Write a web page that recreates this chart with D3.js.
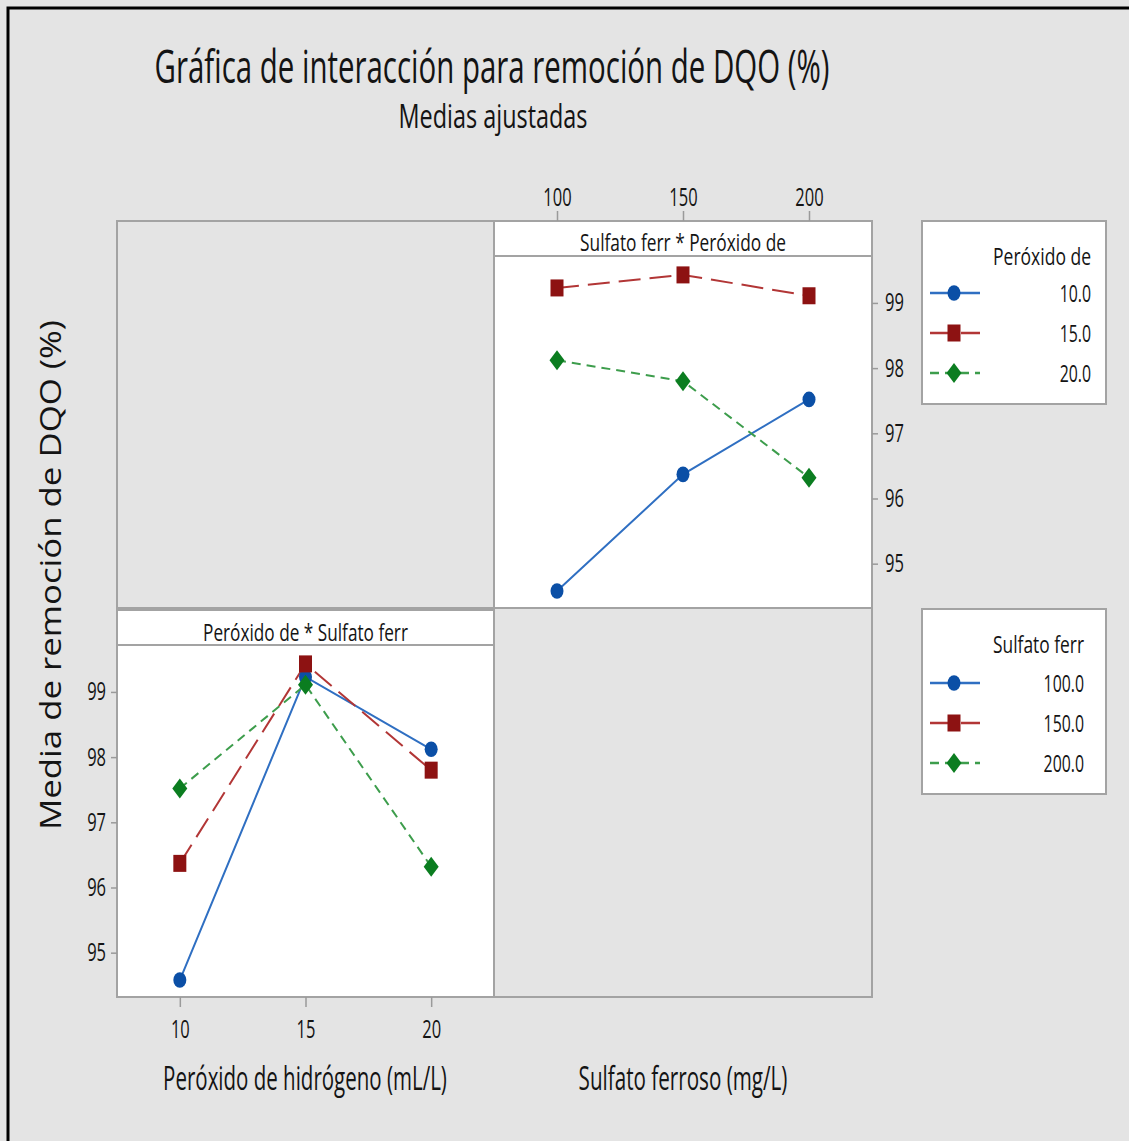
<!DOCTYPE html>
<html>
<head>
<meta charset="utf-8">
<script src="https://cdn.jsdelivr.net/npm/d3@7"></script>
<style>
  body { margin: 0; background: #e4e4e4; }
  svg text { font-family: "Open Sans", sans-serif; fill: #141414; }
</style>
</head>
<body>
<svg width="1129" height="1141"></svg>
<script>
// factor levels
const peroxido = [10, 15, 20];     // mL/L
const sulfato = [100, 150, 200];   // mg/L

// adjusted means (%), one array per peroxido level, in sulfato order
const mediaP10 = [94.58, 96.37, 97.52];
const mediaP15 = [99.23, 99.43, 99.11];
const mediaP20 = [98.12, 97.80, 96.32];

const yTicks = [95, 96, 97, 98, 99];
const legendPeroxido = ["10.0", "15.0", "20.0"];
const legendSulfato = ["100.0", "150.0", "200.0"];

const medias = [mediaP10, mediaP15, mediaP20];

// one style per level (1st, 2nd, 3rd) - same for both panels
const estilos = [
  { line: "#2f6fc2", mark: "#0b4fa6", dash: null, shape: "circle" },
  { line: "#b23636", mark: "#8d1212", dash: "22,9", shape: "square" },
  { line: "#3d9d4c", mark: "#0b7d20", dash: "9,6", shape: "diamond" }
];

const svg = d3.select("svg");

// narrow text: squeeze horizontally with a transform so the box stays right
function narrowText(x, y, size, str, len, anchor) {
  const t = svg.append("text").attr("text-anchor", anchor || "middle")
    .attr("font-size", size).text(str);
  const k = len / t.node().getComputedTextLength();
  t.attr("transform", `translate(${x},${y}) scale(${k},1)`);
  return t;
}
function squeeze(sel, k) {
  sel.each(function() {
    const w = this.getComputedTextLength();
    d3.select(this).attr("textLength", w * k).attr("lengthAdjust", "spacingAndGlyphs");
  });
}

function marker(g, shape, x, y, color) {
  if (shape === "circle") {
    g.append("ellipse").attr("cx", x).attr("cy", y).attr("rx", 6.5).attr("ry", 7.8).attr("fill", color);
  } else if (shape === "square") {
    g.append("rect").attr("x", x - 6.5).attr("y", y - 8.5).attr("width", 13).attr("height", 17).attr("fill", color);
  } else {
    g.append("path").attr("d", `M${x},${y - 10}L${x + 7.5},${y}L${x},${y + 10}L${x - 7.5},${y}Z`).attr("fill", color);
  }
}

// layout
const L = 117, M = 494, R = 872, T = 221, MID = 609, B = 997;
const stripU = 256, stripL = 645;
const border = "#a3a3a3";

// outer frame
svg.append("path").attr("d", "M8,1141V8H1129").attr("fill", "none").attr("stroke", "#000").attr("stroke-width", 3);

// titles
narrowText(492, 83, 46, "Gráfica de interacción para remoción de DQO (%)", 675);
narrowText(493, 128, 33, "Medias ajustadas", 189);

// scales
const yDom = [94.32, 99.72];
const yU = d3.scaleLinear().domain(yDom).range([MID - 1, stripU]);
const yL = d3.scaleLinear().domain(yDom).range([B, stripL]);
const xS = d3.scalePoint().domain(sulfato).range([M, R]).padding(0.5);
const xP = d3.scalePoint().domain(peroxido).range([L, M]).padding(0.5);

// panel backgrounds
svg.append("rect").attr("x", M).attr("y", T).attr("width", R - M).attr("height", MID - 1 - T).attr("fill", "#fff");
svg.append("rect").attr("x", L).attr("y", MID + 1).attr("width", M - L).attr("height", B - MID - 1).attr("fill", "#fff");

// upper-right: x = sulfato, one line per peroxido level
const gU = svg.append("g");
medias.forEach((row, i) => {
  const pts = sulfato.map((s, j) => [xS(s), yU(row[j])]);
  gU.append("path").attr("d", d3.line()(pts)).attr("fill", "none")
    .attr("stroke", estilos[i].line).attr("stroke-width", 2)
    .attr("stroke-dasharray", estilos[i].dash);
});
medias.forEach((row, i) => {
  sulfato.forEach((s, j) => marker(gU, estilos[i].shape, xS(s), yU(row[j]), estilos[i].mark));
});

// lower-left: x = peroxido, one line per sulfato level
const gL = svg.append("g");
sulfato.forEach((s, j) => {
  const pts = peroxido.map((p, i) => [xP(p), yL(medias[i][j])]);
  gL.append("path").attr("d", d3.line()(pts)).attr("fill", "none")
    .attr("stroke", estilos[j].line).attr("stroke-width", 2)
    .attr("stroke-dasharray", estilos[j].dash);
});
sulfato.forEach((s, j) => {
  peroxido.forEach((p, i) => marker(gL, estilos[j].shape, xP(p), yL(medias[i][j]), estilos[j].mark));
});

// panel borders
const bd = svg.append("g").attr("fill", "none").attr("stroke", border).attr("stroke-width", 2);
bd.append("rect").attr("x", L).attr("y", T).attr("width", R - L).attr("height", B - T);
bd.append("line").attr("x1", M).attr("x2", M).attr("y1", T).attr("y2", B);
bd.append("line").attr("x1", L).attr("x2", R).attr("y1", MID - 1).attr("y2", MID - 1);
bd.append("line").attr("x1", L).attr("x2", M).attr("y1", MID + 1).attr("y2", MID + 1);
bd.append("line").attr("x1", M).attr("x2", R).attr("y1", stripU).attr("y2", stripU);
bd.append("line").attr("x1", L).attr("x2", M).attr("y1", stripL).attr("y2", stripL);

// strip labels
narrowText((M + R) / 2, 251, 24, "Sulfato ferr * Peróxido de", 206);
narrowText((L + M) / 2, 641, 24, "Peróxido de * Sulfato ferr", 205);

// axes
function styleAxis(g) {
  g.select(".domain").remove();
  g.selectAll(".tick line").attr("stroke", "#9a9a9a").attr("stroke-width", 1.5);
  g.selectAll(".tick text").attr("font-size", 25).attr("font-family", "Open Sans").attr("fill", "#141414").call(squeeze, 0.66);
}
svg.append("g").attr("transform", `translate(0,${T})`)
  .call(d3.axisTop(xS).tickSize(10).tickPadding(5)).call(styleAxis);
svg.append("g").attr("transform", `translate(${R},0)`)
  .call(d3.axisRight(yU).tickValues(yTicks).tickFormat(d3.format("d")).tickSize(6).tickPadding(7)).call(styleAxis);
svg.append("g").attr("transform", `translate(${L},0)`)
  .call(d3.axisLeft(yL).tickValues(yTicks).tickFormat(d3.format("d")).tickSize(6).tickPadding(5)).call(styleAxis);
svg.append("g").attr("transform", `translate(0,${B})`)
  .call(d3.axisBottom(xP).tickSize(10).tickPadding(13)).call(styleAxis);

// axis titles
narrowText(305, 1090, 32, "Peróxido de hidrógeno (mL/L)", 284);
narrowText(683, 1090, 32, "Sulfato ferroso (mg/L)", 209);
svg.append("text").attr("transform", "translate(61,575) rotate(-90)").attr("text-anchor", "middle")
  .attr("font-size", 29).attr("fill", "#2a2a2a").text("Media de remoción de DQO (%)")
  .attr("textLength", 510).attr("lengthAdjust", "spacingAndGlyphs");

// legends
function legend(y0, h, title, titleLen, labels, textRight, rows) {
  const g = svg.append("g");
  g.append("rect").attr("x", 922).attr("y", y0).attr("width", 184).attr("height", h)
    .attr("fill", "#fff").attr("stroke", border).attr("stroke-width", 2);
  narrowText(textRight, y0 + 44, 24, title, titleLen, "end");
  labels.forEach((lab, i) => {
    const y = rows[i];
    g.append("line").attr("x1", 930).attr("x2", 980).attr("y1", y).attr("y2", y)
      .attr("stroke", estilos[i].line).attr("stroke-width", 2.5).attr("stroke-dasharray", estilos[i].dash);
    marker(g, estilos[i].shape, 954, y, estilos[i].mark);
    g.append("text").attr("x", textRight).attr("y", y + 9).attr("text-anchor", "end")
      .attr("font-size", 24).text(lab).call(squeeze, 0.66);
  });
}
legend(221, 183, "Peróxido de", 98, legendPeroxido, 1091, [293, 333, 373]);
legend(609, 185, "Sulfato ferr", 91, legendSulfato, 1084, [683, 723, 763]);
</script>
</body>
</html>
